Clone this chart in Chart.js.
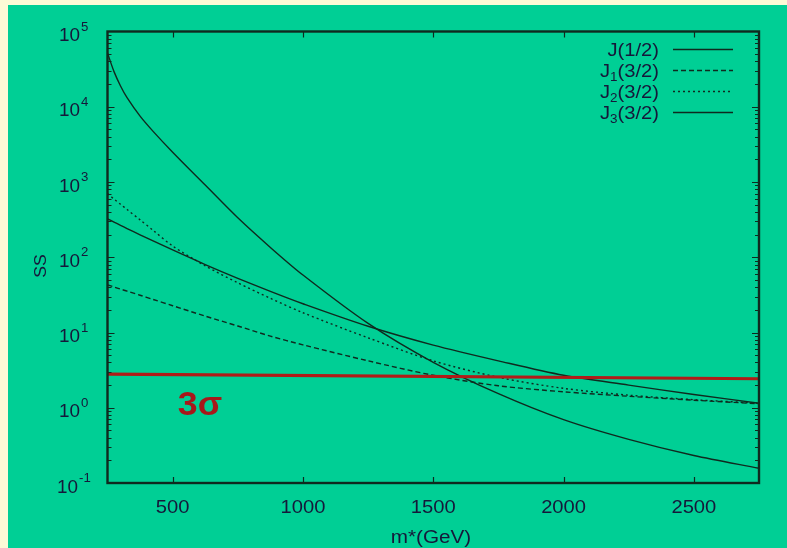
<!DOCTYPE html>
<html lang="en">
<head>
<meta charset="UTF-8" />
<title>SS vs m*</title>
<script src="https://cdn.jsdelivr.net/npm/chart.js@4.4.1/dist/chart.umd.min.js"></script>
<style>
  body { margin: 0; background: #fdfad6; }
  #panel { position: absolute; left: 8px; top: 5px; right: 0; bottom: 0; background: #00cf95; }
  #myChart { position: absolute; left: 0; top: 0; }
</style>
</head>
<body>
<div id="panel"></div>
<canvas id="myChart" width="787" height="548"></canvas>
<script>
// m* in GeV
var mass = [250, 275, 300, 325, 375, 425, 500, 625, 750, 875, 1000, 1250, 1500, 1750, 2000, 2250, 2500, 2750];

var jHalf   = [51800, 29300, 18900, 13200, 7500, 4710, 2490, 910, 334, 135, 58, 13.2, 4.02, 1.54, 0.695, 0.38, 0.232, 0.157];
var j1Three = [43, 40.3, 37.7, 35.5, 31.3, 27.5, 22.7, 16.5, 12.2, 8.95, 6.85, 4.2, 2.7, 1.96, 1.63, 1.42, 1.26, 1.13];
var j2Three = [700, 593, 506, 431, 314, 228, 141, 77, 45.7, 28.5, 18.3, 8.5, 4.2, 2.54, 1.81, 1.47, 1.28, 1.15];
var j3Three = [324, 293, 266, 241, 199, 165, 125, 80, 52.5, 35.2, 24.1, 12.1, 6.8, 4.2, 2.7, 2.0, 1.5, 1.15];

var seriesNames = ["J(1/2)", "J_1(3/2)", "J_2(3/2)", "J_3(3/2)"];
var seriesDash = [[], [5, 3], [2, 3], []];

// 3 sigma reference line
var sigmaMass = [250, 2750];
var sigmaLevel = [2.8, 2.43];

var xTicks = [500, 1000, 1500, 2000, 2500];
var yPowers = [-1, 0, 1, 2, 3, 4, 5];

var ink = "#0f2a1f";
var labelInk = "#15183a";

function pts(ys) {
  return ys.map(function (y, i) { return { x: mass[i], y: y }; });
}

// draws text a bit wider than the font, the way the labels look here
function wideText(ctx, str, x, y, align, font, sx) {
  ctx.save();
  ctx.font = font;
  var w = ctx.measureText(str).width * sx;
  var left = align === "right" ? x - w : align === "center" ? x - w / 2 : x;
  ctx.translate(left, y);
  ctx.scale(sx, 1);
  ctx.textAlign = "left";
  ctx.fillText(str, 0, 0);
  ctx.restore();
  return w;
}

// label with "_x" meaning subscript x
function labelParts(str) {
  var parts = [];
  var i = 0, buf = "";
  while (i < str.length) {
    if (str[i] === "_") {
      if (buf) parts.push({ t: buf, sub: false });
      parts.push({ t: str[i + 1], sub: true });
      buf = "";
      i += 2;
    } else {
      buf += str[i];
      i++;
    }
  }
  if (buf) parts.push({ t: buf, sub: false });
  return parts;
}

var framePlugin = {
  id: "frame",
  afterDatasetsDraw: function (chart) {
    var ctx = chart.ctx;
    var a = chart.chartArea;
    var xs = chart.scales.x, ys = chart.scales.y;
    ctx.save();

    // axis ticks, pointing inward on all four sides
    ctx.strokeStyle = ink;
    ctx.lineWidth = 1.2;
    ctx.beginPath();
    xTicks.forEach(function (v) {
      var px = Math.round(xs.getPixelForValue(v)) + 0.5;
      ctx.moveTo(px, a.bottom); ctx.lineTo(px, a.bottom - 6);
      ctx.moveTo(px, a.top); ctx.lineTo(px, a.top + 6);
    });
    for (var p = -1; p < 5; p++) {
      for (var m = 1; m < 10; m++) {
        var py = Math.round(ys.getPixelForValue(m * Math.pow(10, p))) + 0.5;
        var len = m === 1 ? 7 : 4;
        ctx.moveTo(a.left, py); ctx.lineTo(a.left + len, py);
        ctx.moveTo(a.right, py); ctx.lineTo(a.right - len, py);
      }
    }
    ctx.stroke();

    ctx.lineWidth = 2.4;
    ctx.strokeRect(a.left, a.top, a.right - a.left, a.bottom - a.top);

    // tick labels
    ctx.fillStyle = labelInk;
    xTicks.forEach(function (v) {
      wideText(ctx, String(v), xs.getPixelForValue(v), 513, "center", "18px 'Liberation Sans'", 1.12);
    });
    yPowers.forEach(function (p) {
      var py = ys.getPixelForValue(Math.pow(10, p));
      var right = p < 0 ? 78 : 80;
      wideText(ctx, "10", right, py + 9.5, "right", "18px 'Liberation Sans'", 1.05);
      wideText(ctx, String(p), right + 1, py - 1, "left", "12px 'Liberation Sans'", 1.1);
    });

    // axis titles
    wideText(ctx, "m*(GeV)", 431, 543, "center", "18px 'Liberation Sans'", 1.15);
    ctx.save();
    ctx.translate(46, 266);
    ctx.rotate(-Math.PI / 2);
    wideText(ctx, "SS", 0, 0, "center", "16px 'Liberation Sans'", 1.1);
    ctx.restore();

    // legend
    var rowY = [49.5, 70.5, 91.5, 112.5];
    seriesNames.forEach(function (name, i) {
      var parts = labelParts(name);
      var sx = 1.12;
      var widths = parts.map(function (pt) {
        ctx.font = (pt.sub ? "12px" : "18px") + " 'Liberation Sans'";
        return ctx.measureText(pt.t).width * sx;
      });
      var total = widths.reduce(function (s, w) { return s + w; }, 0);
      var x = 659 - total;
      ctx.fillStyle = labelInk;
      parts.forEach(function (pt, k) {
        wideText(ctx, pt.t, x, rowY[i] + (pt.sub ? 10 : 6.5), "left",
          (pt.sub ? "12px" : "18px") + " 'Liberation Sans'", sx);
        x += widths[k];
      });
      ctx.strokeStyle = ink;
      ctx.lineWidth = 1.3;
      ctx.setLineDash(seriesDash[i]);
      ctx.beginPath();
      ctx.moveTo(673, rowY[i]);
      ctx.lineTo(733, rowY[i]);
      ctx.stroke();
      ctx.setLineDash([]);
    });

    // 3 sigma tag
    ctx.fillStyle = "#a8181a";
    wideText(ctx, "3\u03c3", xs.getPixelForValue(520), ys.getPixelForValue(0.79), "left",
      "bold 34px 'Liberation Sans'", 1.05);

    ctx.restore();
  }
};

var datasets = [jHalf, j1Three, j2Three, j3Three].map(function (ys, i) {
  return {
    label: seriesNames[i],
    data: pts(ys),
    borderColor: ink,
    borderWidth: 1.4,
    borderDash: seriesDash[i],
    pointRadius: 0,
    tension: 0.3,
    order: 1
  };
});
datasets.push({
  label: "3 sigma",
  data: sigmaMass.map(function (m, i) { return { x: m, y: sigmaLevel[i] }; }),
  borderColor: "#b01c18",
  borderWidth: 3.2,
  pointRadius: 0,
  order: 0
});

var chart = new Chart(document.getElementById("myChart"), {
  type: "line",
  data: { datasets: datasets },
  options: {
    responsive: false,
    animation: false,
    layout: { padding: { left: 107.5, top: 31.5, right: 28, bottom: 65 } },
    plugins: { legend: { display: false }, tooltip: { enabled: false } },
    scales: {
      x: { type: "linear", min: 250, max: 2750, display: false },
      y: { type: "logarithmic", min: 0.1, max: 100000, display: false }
    }
  },
  plugins: [framePlugin]
});
</script>
</body>
</html>
